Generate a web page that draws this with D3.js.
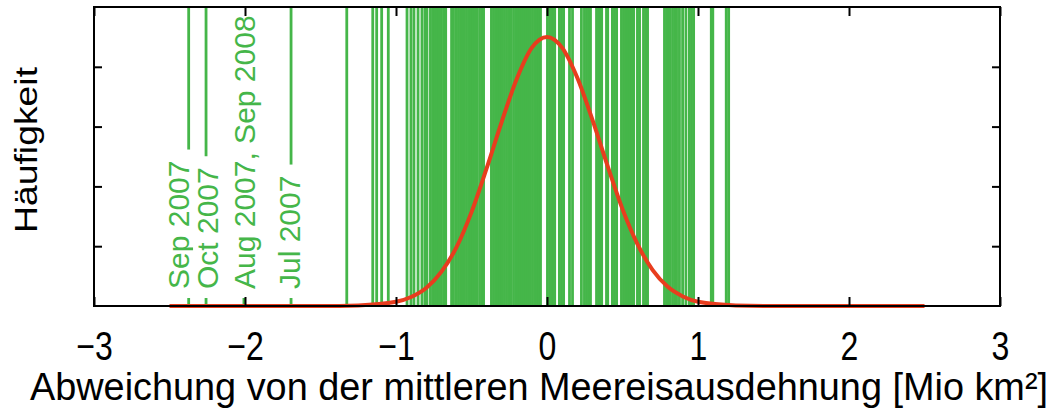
<!DOCTYPE html>
<html>
<head>
<meta charset="utf-8">
<script src="https://cdn.jsdelivr.net/npm/d3@7"></script>
<style>
    body { margin: 0; background: #fff; }
    text { font-family: "Liberation Sans", Arial, Helvetica, sans-serif; }
</style>
</head>
<body>
<div id="chart"></div>
<script>

// monthly sea ice anomalies (Mio km2)
var anomalies = [
    -1.326, -1.154, -1.128, -1.095, -1.051, -0.927, -0.901, -0.881, -0.854, -0.828,
    -0.808, -0.795,
    -0.772, -0.757, -0.742, -0.730, -0.713, -0.699, -0.684, -0.671, -0.632, -0.619,
    -0.600, -0.586, -0.572, -0.564, -0.547, -0.533, -0.519, -0.505, -0.491, -0.478,
    -0.466, -0.447, -0.433, -0.420, -0.368, -0.354, -0.340, -0.326, -0.312, -0.300,
    -0.282, -0.268, -0.254, -0.241, -0.222, -0.208, -0.194, -0.180, -0.166, -0.152,
    -0.138, -0.124, -0.110, -0.096, -0.082, -0.068, -0.054, -0.043,
    0.003, 0.017, 0.031, 0.044, 0.051, 0.082, 0.096, 0.110, 0.149, 0.169,
    0.228, 0.248, 0.262, 0.276, 0.288, 0.328, 0.342, 0.356, 0.362, 0.394,
    0.402, 0.433, 0.447, 0.461, 0.493, 0.507, 0.521, 0.535, 0.549, 0.563,
    0.574, 0.599, 0.613, 0.639, 0.653, 0.666, 0.778, 0.792, 0.806, 0.812,
    0.831, 0.845, 0.858, 0.877, 0.898, 0.920, 0.943, 0.957, 0.971,
    1.088, 1.098, 1.187, 1.203
];

// the labelled extreme months
var extremeNames = ["Sep 2007", "Oct 2007", "Aug 2007, Sep 2008", "Jul 2007"];
var extremeValues = [-2.373, -2.258, -2.007, -1.695];

// fitted distribution
var curveX = [-2.5, -1.5, -1.25, -1.0, -0.9, -0.8, -0.7, -0.6, -0.5, -0.4, -0.3, -0.2, -0.1,
              0.0, 0.1, 0.2, 0.3, 0.4, 0.5, 0.6, 0.7, 0.8, 0.9, 1.0, 1.25, 1.5, 2.5];
var curveY = [0, 0, 0.01, 0.07, 0.15, 0.30, 0.57, 0.98, 1.57, 2.30, 3.08, 3.80, 4.32,
              4.50, 4.32, 3.82, 3.12, 2.35, 1.62, 1.03, 0.60, 0.32, 0.16, 0.07, 0.01, 0, 0];

var xTicks = [-3, -2, -1, 0, 1, 2, 3];
var xTickLabels = ["\u22123", "\u22122", "\u22121", "0", "1", "2", "3"];
var yTicks = [1, 2, 3, 4];

var xTitle = "Abweichung von der mittleren Meereisausdehnung [Mio km\u00b2]";
var yTitle = "H\u00e4ufigkeit";


var margin = { top: 7, right: 55, bottom: 107, left: 94 };
var width = 1055 - margin.left - margin.right,
    height = 413 - margin.top - margin.bottom;

var green = "#45b649";

var svg = d3.select("#chart").append("svg")
    .attr("width", 1055)
    .attr("height", 413);

var g = svg.append("g")
    .attr("transform", "translate(" + margin.left + "," + margin.top + ")");

var x = d3.scaleLinear().domain([-3, 3]).range([0, width]);
var y = d3.scaleLinear().domain([0, 5]).range([height, 0]);

// green lines, one per month
g.selectAll(".month")
    .data(anomalies.concat(extremeValues))
    .enter().append("line")
    .attr("class", "month")
    .attr("x1", function(d) { return x(d); })
    .attr("x2", function(d) { return x(d); })
    .attr("y1", 0)
    .attr("y2", height)
    .attr("stroke", green)
    .attr("stroke-width", 2.8);

// labels for the extremes, on a white box
var labelShift = [0, 12, 11, 9];
var labelBottom = 282;

var labels = g.selectAll(".extreme")
    .data(extremeNames)
    .enter().append("g")
    .attr("class", "extreme")
    .attr("transform", function(d, i) {
        return "translate(" + (x(extremeValues[i]) + labelShift[i]) + "," + labelBottom + ") rotate(-90)";
    });

labels.append("text")
    .attr("fill", green)
    .style("font-size", "30px")
    .text(function(d) { return d; });

labels.each(function() {
    var grp = d3.select(this);
    var bb = grp.select("text").node().getBBox();
    grp.insert("rect", "text")
        .attr("x", bb.x - 9)
        .attr("y", bb.y + 2)
        .attr("width", bb.width + 20)
        .attr("height", bb.height - 3)
        .attr("fill", "#fff");
});

// red fit curve
var line = d3.line()
    .x(function(d, i) { return x(curveX[i]); })
    .y(function(d) { return y(d); })
    .curve(d3.curveMonotoneX);

g.append("path")
    .datum(curveY)
    .attr("d", line)
    .attr("fill", "none")
    .attr("stroke", "#e83d1e")
    .attr("stroke-width", 4);

// frame and inside ticks
g.append("rect")
    .attr("width", width)
    .attr("height", height)
    .attr("fill", "none")
    .attr("stroke", "#000")
    .attr("stroke-width", 2);

var xAxis = g.append("g")
    .attr("transform", "translate(0," + height + ")")
    .call(d3.axisBottom(x)
        .tickValues(xTicks)
        .tickSizeInner(-9)
        .tickSizeOuter(0)
        .tickPadding(26)
        .tickFormat(function(d, i) { return xTickLabels[i]; }));

xAxis.select(".domain").remove();
xAxis.selectAll("line").attr("stroke-width", 2);
xAxis.selectAll("text")
    .attr("fill", "#000")
    .attr("transform", "scale(0.8,1)")
    .style("font-size", "40px")
    .style("font-family", "'Liberation Sans', Arial, sans-serif");

var xAxisTop = g.append("g")
    .call(d3.axisTop(x).tickValues(xTicks).tickSizeInner(-9).tickSizeOuter(0).tickFormat(""));
xAxisTop.select(".domain").remove();
xAxisTop.selectAll("line").attr("stroke-width", 2);

var yAxis = g.append("g")
    .call(d3.axisLeft(y).tickValues(yTicks).tickSizeInner(-8).tickSizeOuter(0).tickFormat(""));
yAxis.select(".domain").remove();
yAxis.selectAll("line").attr("stroke-width", 2);

var yAxisRight = g.append("g")
    .attr("transform", "translate(" + width + ",0)")
    .call(d3.axisRight(y).tickValues(yTicks).tickSizeInner(-8).tickSizeOuter(0).tickFormat(""));
yAxisRight.select(".domain").remove();
yAxisRight.selectAll("line").attr("stroke-width", 2);

// axis titles
svg.append("text")
    .attr("x", 30)
    .attr("y", 400)
    .attr("textLength", 1018)
    .attr("lengthAdjust", "spacingAndGlyphs")
    .style("font-size", "38px")
    .text(xTitle);

svg.append("text")
    .attr("transform", "translate(37,150) rotate(-90)")
    .attr("text-anchor", "middle")
    .attr("textLength", 166)
    .attr("lengthAdjust", "spacingAndGlyphs")
    .style("font-size", "32px")
    .text(yTitle);

</script>
</body>
</html>
